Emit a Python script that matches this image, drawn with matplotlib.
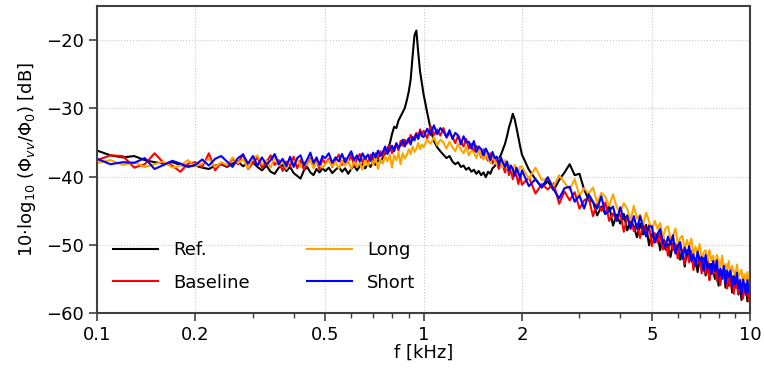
import numpy as np
import matplotlib
matplotlib.use("Agg")
import matplotlib.pyplot as plt
from matplotlib.ticker import FixedLocator, FixedFormatter, NullFormatter

# frequency bins [Hz]: finer steps at low f, coarser at high f
freq_hz = np.concatenate([
    np.arange(100, 500, 10),
    np.arange(500, 1000, 12.5),
    np.arange(1000, 2000, 25),
    np.arange(2000, 10001, 100),
])
freq = freq_hz / 1000.0

# spectra [dB]
ref = [
    # 0.10 - 0.49 kHz
    -36.2, -36.9, -37.2, -37.0, -37.6, -37.9, -38.1, -37.9, -38.3, -38.5,
    -38.4, -38.7, -38.9, -38.4, -38.2, -38.6, -38.1, -37.8, -38.5, -38.0,
    -37.9, -38.6, -39.1, -38.4, -39.3, -39.6, -38.7, -38.3, -39.2, -38.6,
    -39.5, -39.9, -40.3, -39.1, -38.6, -39.4, -39.8, -38.9, -39.4, -38.8,
    # 0.50 - 0.99 kHz
    -39.2, -38.7, -39.5, -39.0, -38.6, -39.3, -38.8, -39.6, -38.9, -38.4,
    -39.1, -38.5, -38.2, -38.8, -38.1, -38.6, -37.8, -38.3, -37.6, -37.9,
    -37.2, -36.6, -36.0, -35.2, -33.8, -32.7, -32.9, -31.8, -31.2, -30.6,
    -30.0, -28.9, -27.6, -25.8, -22.4, -19.3, -18.6, -21.8, -24.6, -26.3,
    # 1.0 - 1.975 kHz
    -28.0, -30.6, -33.0, -34.8, -35.7, -36.3, -36.8, -37.3, -37.0, -37.8,
    -38.2, -37.9, -38.6, -38.4, -39.0, -38.7, -39.3, -39.0, -39.6, -39.2,
    -39.8, -39.4, -40.1, -39.3, -39.6, -38.8, -38.5, -37.9, -37.4, -36.8,
    -36.0, -35.2, -34.1, -32.8, -31.9, -30.8, -31.6, -32.9, -34.3, -35.6,
    # 2.0 - 10.0 kHz
    -36.8, -39.0, -40.4, -41.6, -40.7, -42.0, -40.5, -39.4, -38.2, -39.8,
    -39.6, -41.9, -43.4, -43.7, -45.7, -44.4, -45.5, -44.3, -47.2, -45.6,
    -46.9, -45.5, -47.9, -46.5, -47.3, -48.9, -46.9, -48.5, -47.1, -50.1,
    -48.4, -49.3, -48.4, -50.8, -48.6, -50.7, -49.9, -51.8, -49.8, -50.9,
    -49.9, -52.2, -50.8, -53.2, -50.8, -52.3, -51.0, -53.3, -52.2, -54.0,
    -52.0, -53.6, -51.9, -54.5, -53.0, -55.1, -52.8, -54.0, -55.0, -53.5,
    -56.0, -53.9, -55.0, -53.7, -56.3, -54.8, -56.0, -54.5, -57.0, -55.2,
    -56.3, -54.7, -57.3, -55.8, -58.1, -55.7, -57.0, -55.8, -58.3, -56.9,
    -57.7,
]

baseline = [
    -37.6, -36.9, -37.0, -38.7, -38.2, -36.6, -38.0, -38.4, -39.3, -38.1,
    -37.9, -38.6, -36.6, -39.1, -38.0, -38.5, -37.4, -38.2, -36.7, -38.9,
    -38.0, -37.2, -38.7, -37.9, -36.9, -38.3, -37.6, -39.2, -37.8, -38.5,
    -37.1, -38.8, -37.6, -39.0, -38.2, -37.3, -38.6, -37.7, -38.9, -37.4,
    -38.1, -37.4, -38.6, -37.6, -36.8, -38.3, -37.3, -38.0, -36.9, -38.4,
    -37.5, -36.7, -37.9, -37.1, -38.2, -36.8, -37.6, -36.6, -37.4, -36.3,
    -37.0, -36.2, -36.5, -35.4, -36.6, -35.7, -35.3, -36.2, -34.8, -35.5,
    -34.6, -35.2, -34.9, -33.9, -34.7, -34.2, -33.6, -34.4, -33.1, -33.9,
    -33.3, -34.4, -32.6, -33.9, -33.1, -34.0, -32.9, -34.3, -33.6, -34.2,
    -35.1, -34.0, -34.8, -35.6, -34.5, -35.9, -35.2, -36.4, -35.5, -36.1,
    -37.2, -36.0, -36.9, -37.7, -36.6, -38.1, -37.3, -38.0, -38.9, -37.6,
    -38.5, -39.4, -38.2, -39.8, -38.9, -40.4, -39.3, -39.9, -41.1, -39.8,
    -41.2, -40.1, -42.5, -41.1, -41.9, -41.0, -44.0, -42.2, -43.5, -42.3,
    -44.7, -43.5, -43.1, -45.8, -43.9, -45.0, -43.8, -46.5, -45.4, -46.5,
    -45.3, -48.1, -46.1, -45.9, -48.0, -47.0, -49.0, -47.0, -48.4, -47.1,
    -50.2, -48.3, -49.7, -48.3, -50.7, -49.5, -51.6, -49.2, -50.8, -49.9,
    -52.0, -49.8, -51.3, -52.8, -50.8, -52.6, -50.9, -53.7, -52.0, -52.8,
    -51.7, -54.2, -52.3, -54.2, -52.0, -55.2, -53.2, -54.3, -52.9, -55.3,
    -54.0, -55.9, -53.7, -54.9, -53.7, -56.4, -54.5, -56.1, -54.6, -57.2,
    -54.6, -56.1, -57.1, -55.1, -56.4, -57.9, -55.8, -57.4, -55.6, -58.3,
    -57.6,
]

long_ = [
    -38.0, -37.6, -38.3, -37.9, -38.6, -38.2, -37.8, -38.7, -38.4, -37.6,
    -38.5, -38.1, -37.4, -38.6, -37.9, -38.3, -37.2, -38.0, -37.5, -38.8,
    -37.3, -36.9, -38.2, -37.6, -38.7, -37.1, -38.4, -37.7, -38.9, -37.4,
    -38.1, -37.3, -38.6, -37.8, -38.3, -37.5, -38.8, -37.9, -38.4, -38.7,
    -38.2, -37.6, -38.5, -37.9, -38.8, -37.7, -38.4, -37.5, -38.9, -37.8,
    -38.6, -38.0, -39.0, -37.6, -38.5, -37.4, -38.3, -37.2, -38.9, -37.5,
    -38.1, -37.0, -37.8, -36.8, -38.7, -36.9, -37.6, -36.5, -38.2, -36.6,
    -37.3, -36.9, -36.0, -36.7, -35.6, -36.4, -35.9, -35.1, -36.0, -35.3,
    -35.7, -34.6, -35.2, -34.2, -35.4, -34.6, -35.0, -35.9, -34.9, -35.7,
    -36.3, -35.2, -36.0, -36.6, -35.7, -36.9, -36.2, -36.5, -37.3, -36.1,
    -37.0, -37.5, -36.6, -37.4, -38.0, -36.9, -37.7, -38.3, -37.4, -38.1,
    -38.6, -37.6, -38.8, -38.2, -38.5, -39.3, -38.3, -39.0, -39.6, -38.5,
    -38.6, -40.3, -38.7, -40.5, -40.3, -41.4, -39.8, -40.9, -41.9, -40.4,
    -42.8, -41.7, -42.5, -41.6, -43.9, -42.4, -43.0, -44.3, -42.6, -44.5,
    -45.3, -43.9, -44.7, -46.4, -44.3, -46.2, -45.6, -47.0, -45.3, -46.6,
    -48.0, -46.5, -47.7, -46.8, -49.1, -47.6, -47.3, -49.1, -48.8, -47.6,
    -49.9, -49.0, -48.7, -50.8, -49.3, -50.3, -49.1, -51.4, -50.3, -51.3,
    -49.9, -52.2, -51.1, -50.8, -52.3, -50.8, -52.4, -51.6, -53.5, -51.5,
    -52.4, -53.3, -51.6, -53.9, -52.8, -53.6, -52.4, -54.7, -53.1, -53.8,
    -54.8, -52.9, -54.8, -54.1, -53.7, -55.7, -54.3, -55.2, -54.0, -56.0,
    -55.1,
]

short = [
    -37.4, -38.2, -37.9, -38.0, -37.3, -38.9, -38.3, -37.7, -38.1, -38.6,
    -38.3, -37.5, -38.4, -37.4, -37.0, -37.8, -38.6, -37.3, -36.8, -38.1,
    -37.0, -38.4, -37.2, -38.3, -37.6, -36.7, -38.2, -37.4, -38.5, -37.1,
    -38.6, -37.3, -36.9, -38.4, -37.5, -36.5, -38.0, -37.2, -38.3, -37.0,
    -37.3, -36.6, -38.0, -37.2, -37.8, -36.7, -37.9, -37.1, -36.3, -37.6,
    -36.9, -37.8, -36.6, -37.4, -36.8, -37.7, -36.5, -37.2, -36.2, -37.0,
    -36.4, -35.6, -36.7, -36.0, -35.5, -36.3, -35.1, -35.8, -35.4, -34.6,
    -35.6, -34.9, -34.4, -35.3, -34.2, -34.7, -33.8, -34.5, -33.4, -34.1,
    -34.2, -33.0, -33.9, -32.5, -33.8, -32.9, -33.4, -34.2, -33.2, -34.5,
    -33.6, -34.0, -35.3, -34.1, -35.0, -34.9, -35.9, -34.8, -36.4, -35.6,
    -36.0, -36.9, -35.9, -36.6, -37.6, -36.4, -37.3, -37.1, -38.3, -37.2,
    -38.0, -38.6, -37.8, -39.1, -38.4, -38.9, -39.9, -38.7, -39.5, -40.2,
    -39.1, -41.4, -40.4, -41.6, -40.1, -41.9, -43.2, -41.7, -41.5, -43.7,
    -42.8, -44.7, -42.6, -43.7, -44.7, -42.9, -45.5, -45.0, -44.4, -46.5,
    -44.5, -46.3, -45.7, -47.7, -45.8, -47.7, -45.8, -47.5, -48.8, -47.3,
    -47.3, -49.7, -48.4, -47.7, -49.7, -50.3, -48.8, -50.0, -48.6, -51.3,
    -50.2, -49.6, -52.1, -50.4, -51.6, -50.2, -52.4, -51.4, -53.1, -51.0,
    -52.4, -51.8, -53.8, -51.5, -53.5, -52.8, -54.3, -52.4, -53.9, -52.3,
    -54.8, -53.5, -54.9, -53.1, -55.7, -53.8, -54.7, -53.8, -56.1, -54.6,
    -55.8, -54.1, -56.4, -55.3, -57.2, -55.1, -55.8, -57.2, -55.2, -57.0,
    -56.2,
]

labels = ["Ref.", "Baseline", "Long", "Short"]
colors = ["black", "red", "orange", "blue"]
xticks = [0.1, 0.2, 0.5, 1, 2, 5, 10]
xticklabels = ["0.1", "0.2", "0.5", "1", "2", "5", "10"]

plt.rcParams["font.size"] = 13

fig = plt.figure(figsize=(7.64, 3.73), dpi=100)
ax = fig.add_axes([0.127, 0.161, 0.855, 0.823])

for y, lab, col in zip([ref, baseline, long_, short], labels, colors):
    ax.plot(freq, y, color=col, lw=1.5, label=lab)

ax.set_xscale("log")
ax.set_xlim(0.1, 10)
ax.set_ylim(-60, -15)
ax.xaxis.set_major_locator(FixedLocator(xticks))
ax.xaxis.set_major_formatter(FixedFormatter(xticklabels))
ax.xaxis.set_minor_formatter(NullFormatter())
ax.set_yticks([-60, -50, -40, -30, -20])

ax.grid(True, which="major", ls=":", lw=0.8, color="#c8c8c8")
for s in ax.spines.values():
    s.set_color("#404040")
    s.set_linewidth(1.5)
ax.tick_params(which="major", length=6, width=1.2, color="#404040")
ax.tick_params(which="minor", length=3.5, width=1.0, color="#404040")

ax.set_xlabel("f [kHz]", labelpad=0)
ax.set_ylabel(r"10$\cdot$log$_{10}$ ($\Phi_{vv}$/$\Phi_0$) [dB]", labelpad=6)

ax.legend(loc="lower left", ncol=2, frameon=False, handlelength=2.5,
          columnspacing=3.2, labelspacing=0.8, bbox_to_anchor=(0.0, 0.016))

fig.savefig("out.png", dpi=100)
